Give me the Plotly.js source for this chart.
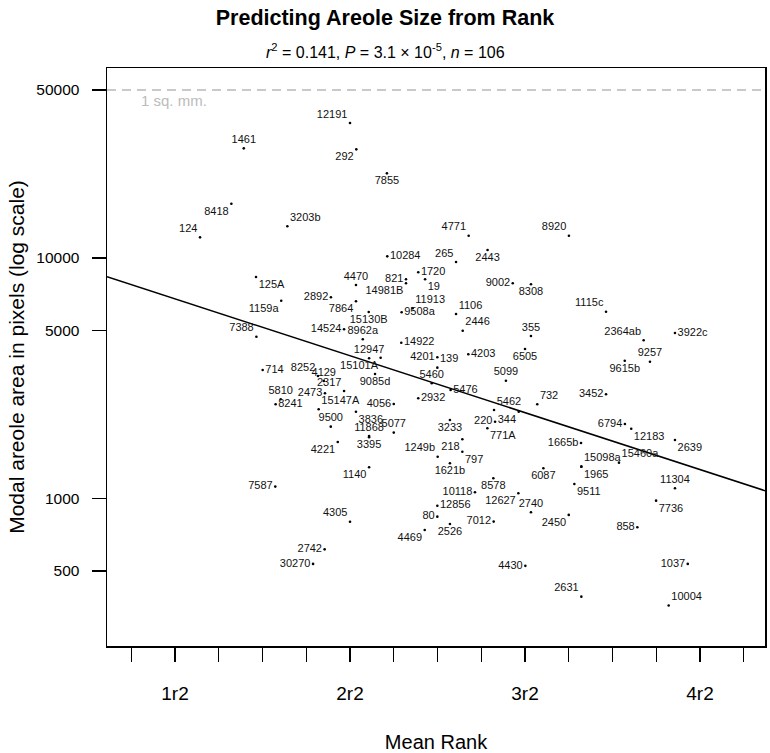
<!DOCTYPE html>
<html><head><meta charset="utf-8">
<script src="https://cdn.plot.ly/plotly-3.0.1.min.js"></script>
<style>html,body{margin:0;padding:0;background:#fff}#chart{width:770px;height:753px}</style>
</head><body><div id="chart"></div>
<script>
const labels = ['12191','1461','292','7855','8418','3203b','124','10284','4771','8920',
 '265','2443','125A','4470','821','14981B','2892','7864','1159a','15130B',
 '14524','8962a','12947','15101A','7388','714','8252','4129','2317','9085d',
 '5810','2473','8241','15147A','4056','9500','3836','11868','3395','5077',
 '4221','1140','7587','4305','2742','30270','1720','19','9002','8308',
 '11913','9508a','1106','2446','355','14922','4201','139','4203','6505',
 '1115c','2364ab','3922c','9257','9615b','5099','5460','5476','2932','5462',
 '344','220','771A','732','3452','6794','12183','2639','1665b','15098a',
 '15460a','1965','9511','3233','1249b','218','797','1621b','6087','8578',
 '10118','12627','2740','12856','80','7012','2526','4469','2450','858',
 '11304','7736','4430','1037','2631','10004'];
const meanRank = [2.000,1.393,2.036,2.211,1.322,1.642,1.143,2.213,2.678,3.251,
 2.606,2.786,1.463,2.034,2.320,2.320,1.891,2.034,1.607,2.107,
 1.966,2.073,2.109,2.175,1.465,1.501,1.817,1.850,1.966,2.143,
 1.604,1.857,1.575,1.821,2.250,1.890,2.034,2.109,2.109,2.250,
 1.930,2.109,1.573,2.000,1.855,1.789,2.390,2.429,2.930,3.034,
 2.358,2.295,2.606,2.644,3.034,2.293,2.499,2.499,2.676,3.000,
 3.463,3.678,3.857,3.714,3.570,2.891,2.467,2.575,2.390,2.823,
 2.964,2.829,2.785,3.070,3.463,3.571,3.607,3.857,3.320,3.322,
 3.537,3.322,3.282,2.571,2.501,2.642,2.642,2.571,3.105,2.819,
 2.714,2.962,3.034,2.499,2.499,2.821,2.571,2.427,3.250,3.642,
 3.857,3.749,3.002,3.930,3.322,3.821];
const areolePx = [36400,28570,28300,22490,16810,13550,12190,10160,12380,12380,
 9625,10800,8337,7724,8156,7849,6866,6607,6645,5965,
 5055,4593,3830,3852,4709,3424,3233,3080,2800,3296,
 2586,2740,2466,2351,2474,1990,2297,1820,1800,1880,
 1719,1350,1121,801,615,535,8721,8156,7849,7776,
 6180,5947,5852,4987,4741,4446,3867,3501,3979,4186,
 5982,4549,4880,3707,3743,3090,3015,2828,2612,2335,
 2297,2087,1960,2466,2714,2042,1952,1752,1702,1357,
 1410,1357,1150,2122,1493,1764,1566,1402,1336,1215,
 1062,1052,877,934,841,802,784,740,855,760,
 1104,980,525,535,391,359];
const labelPos = ['top left','top center','bottom left','bottom center','bottom left','top right','top left','middle right','top left','top left',
 'top left','bottom center','bottom right','top center','middle left','bottom left','middle left','bottom left','bottom left','bottom center',
 'middle left','top center','top center','bottom left','top left','middle right','top left','top center','top left','bottom center',
 'top center','middle left','middle right','top right','middle left','top center','bottom right','top center','bottom center','top center',
 'bottom left','bottom left','middle left','top left','middle left','middle left','middle right','bottom right','middle left','bottom center',
 'top right','middle right','top right','top right','top center','middle right','middle left','top right','middle right','bottom center',
 'top left','top left','middle right','top center','bottom center','top center','top center','middle right','middle right','top right',
 'bottom left','middle left','bottom right','top right','middle left','middle left','bottom right','bottom right','middle left','top right',
 'top right','bottom right','bottom right','bottom center','top left','bottom left','bottom right','bottom center','bottom center','bottom center',
 'middle left','bottom left','top center','middle right','middle left','middle left','bottom center','bottom left','bottom left','middle left',
 'top center','bottom right','middle left','middle left','top left','top right'];

const xMajorVals = [1,2,3,4];
const xMajorText = ['1r2','2r2','3r2','4r2'];
const xMinorVals = [0.75,1.25,1.5,1.75,2.25,2.5,2.75,3.25,3.5,3.75,4.25];
const yTickVals = [500,1000,5000,10000,50000];
const yTickText = ['500','1000','5000','10000','50000'];
const fitIntercept = 4.0669;   // log10 area at rank 0
const fitSlope = -0.2366;      // per unit of mean rank
const xRange = [0.6114, 4.3714];
const yRangeLog = [2.387, 4.79];
const sqMM = 50000;

const FONT = 'Liberation Sans, Arial, Helvetica, sans-serif';

const traces = [
  {x: xRange, y: [sqMM, sqMM], mode: 'lines', line: {color: '#b8b8b8', width: 1.5, dash: '9px,6px'}, hoverinfo: 'skip'},
  {x: xRange, y: xRange.map(v => Math.pow(10, fitIntercept + fitSlope * v)), mode: 'lines', line: {color: '#000', width: 1.5}, hoverinfo: 'skip'},
  {x: meanRank, y: areolePx, text: labels, mode: 'markers+text', textposition: labelPos,
   marker: {color: '#000', size: 2.6}, textfont: {family: FONT, size: 11, color: '#111'}, cliponaxis: false}
];

const layout = {
  width: 770, height: 753,
  margin: {l: 107, r: 5, t: 68, b: 107},
  paper_bgcolor: '#fff', plot_bgcolor: '#fff',
  showlegend: false,
  font: {family: FONT, color: '#000'},
  title: {text: '<b>Predicting Areole Size from Rank</b>', font: {family: FONT, size: 21.5, color: '#000'},
          xref: 'container', x: 0.5, xanchor: 'center', yref: 'container', y: 0.977, yanchor: 'middle'},
  xaxis: {range: xRange, showgrid: false, zeroline: false, showline: true, mirror: true, linecolor: '#000', linewidth: 1.5,
          ticks: 'outside', ticklen: 14, tickwidth: 1.2, tickcolor: '#000', tickmode: 'array', tickvals: xMajorVals, ticktext: xMajorText,
          minor: {tickmode: 'array', tickvals: xMinorVals, ticks: 'outside', ticklen: 14, tickwidth: 1.2, tickcolor: '#000', showgrid: false},
          tickfont: {family: FONT, size: 19, color: '#000'}, ticklabelstandoff: 16,
          title: {text: 'Mean Rank', font: {family: FONT, size: 20, color: '#000'}, standoff: 31}},
  yaxis: {type: 'log', range: yRangeLog, showgrid: false, zeroline: false, showline: true, mirror: true, linecolor: '#000', linewidth: 1.5,
          ticks: 'outside', ticklen: 14, tickwidth: 1.2, tickcolor: '#000', tickmode: 'array', tickvals: yTickVals, ticktext: yTickText,
          tickfont: {family: FONT, size: 15.5, color: '#000'}, ticklabelstandoff: 9,
          title: {text: 'Modal areole area in pixels (log scale)', font: {family: FONT, size: 21, color: '#000'}, standoff: 6}},
  annotations: [
    {text: '<i>r</i><sup>2</sup> = 0.141, <i>P</i> = 3.1 × 10<sup>-5</sup>, <i>n</i> = 106', xref: 'paper', yref: 'paper',
     x: 0.424, y: 1.0294, xanchor: 'center', yanchor: 'middle', showarrow: false, font: {family: FONT, size: 16, color: '#000'}},
    {text: '1 sq. mm.', xref: 'paper', yref: 'y', x: 0.0486, y: Math.log10(sqMM), yshift: -11, xanchor: 'left', yanchor: 'middle',
     showarrow: false, font: {family: FONT, size: 15, color: '#bbbbbb'}}
  ]
};

Plotly.newPlot('chart', traces, layout, {displayModeBar: false, staticPlot: true});
</script></body></html>
